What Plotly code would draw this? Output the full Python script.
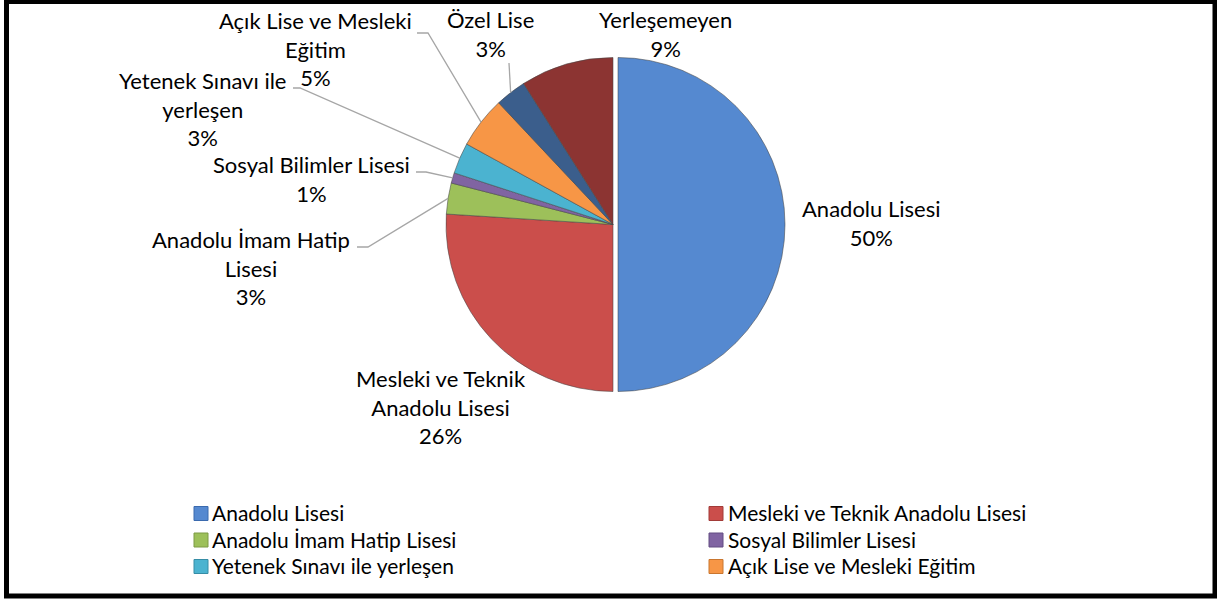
import math
import plotly.graph_objects as go

# ---------------- data ----------------
labels = [
    "Anadolu Lisesi",
    "Mesleki ve Teknik Anadolu Lisesi",
    "Anadolu İmam Hatip Lisesi",
    "Sosyal Bilimler Lisesi",
    "Yetenek Sınavı ile yerleşen",
    "Açık Lise ve Mesleki Eğitim",
    "Özel Lise",
    "Yerleşemeyen",
]
values = [50, 26, 3, 1, 3, 5, 3, 9]
# data label text (with the line breaks used in the chart)
label_text = [
    "Anadolu Lisesi",
    "Mesleki ve Teknik<br>Anadolu Lisesi",
    "Anadolu İmam Hatip<br>Lisesi",
    "Sosyal Bilimler Lisesi",
    "Yetenek Sınavı ile<br>yerleşen",
    "Açık Lise ve Mesleki<br>Eğitim",
    "Özel Lise",
    "Yerleşemeyen",
]
legend_count = 6  # only the first six entries are visible in the legend

# ---------------- styles ----------------
colors = ["#5589D0", "#CB4E4B", "#9DC05A", "#8064A2",
          "#4BB3D0", "#F79646", "#3B5E8C", "#8C3432"]
edge_colors = ["#3A6AAE", "#A23B38", "#7C9A44", "#624C82",
               "#368DA6", "#C9762F", "#2A4467", "#6A2523"]
pulls = [0.03, 0, 0, 0, 0, 0, 0, 0]
FONT = "Lato, 'Open Sans', 'DejaVu Sans', sans-serif"
FS = 22
LEG_FS = 21

W, H = 1217, 599
CX, CY, R = 613, 224.5, 167
PULL = max(pulls)
D = 2 * R * (1 + PULL)


def px(x):
    return x / W


def py(y):
    return 1 - y / H


# label block centres (pixels) and leader-line start points (pixels)
label_pos = [(871, 222.5), (441, 407.5), (251, 268), (311, 179),
             (202, 109), (315, 48.5), (490.5, 34), (665, 34)]
leader_start = [None, None,
                [(357, 247), (368, 247)],
                [(416, 172), (426, 172)],
                [(293, 88), (300, 88)],
                [(417, 33), (428, 33)],
                [(509, 63)],
                None]

fig = go.Figure()
fig.add_trace(go.Pie(
    labels=labels,
    values=values,
    sort=False,
    direction="clockwise",
    rotation=0,
    pull=pulls,
    textinfo="none",
    showlegend=False,
    marker=dict(colors=colors, line=dict(color="rgba(70,70,70,0.55)", width=1)),
    domain=dict(x=[px(CX - D / 2), px(CX + D / 2)],
                y=[py(CY + D / 2), py(CY - D / 2)]),
))

total = sum(values)
annotations = []
shapes = []
cum = 0
for i, v in enumerate(values):
    pct = round(100 * v / total)
    lx, ly = label_pos[i]
    annotations.append(dict(
        x=px(lx), y=py(ly), xref="paper", yref="paper",
        xanchor="center", yanchor="middle", showarrow=False,
        text=f"{label_text[i]}<br>{pct}%",
        font=dict(family=FONT, size=FS, color="#000000"),
    ))
    theta = math.radians(360 * (cum + v / 2) / total)
    ex = CX + R * math.sin(theta)
    ey = CY - R * math.cos(theta)
    if leader_start[i]:
        pts = leader_start[i] + [(ex, ey)]
        path = "M " + " L ".join(f"{px(a):.5f},{py(b):.5f}" for a, b in pts)
        shapes.append(dict(type="path", path=path, xref="paper", yref="paper",
                           line=dict(color="#A6A6A6", width=1.3)))
    cum += v

# legend (2 columns x 3 rows, row-major)
col_marker_x = [194, 709]
col_text_x = [212, 728]
row_y = [513.5, 540, 566.5]
for i in range(legend_count):
    r, c = divmod(i, 2)
    mx, my = col_marker_x[c], row_y[r]
    shapes.append(dict(type="rect", xref="paper", yref="paper",
                       x0=px(mx), x1=px(mx + 14), y0=py(my + 7), y1=py(my - 7),
                       fillcolor=colors[i], line=dict(color=edge_colors[i], width=1)))
    annotations.append(dict(
        x=px(col_text_x[c]), y=py(my - 1), xref="paper", yref="paper",
        xanchor="left", yanchor="middle", showarrow=False,
        borderpad=0, borderwidth=0,
        text=labels[i], font=dict(family=FONT, size=LEG_FS, color="#000000"),
    ))

# outer frame
shapes.append(dict(type="rect", xref="paper", yref="paper",
                   x0=px(6.5), x1=px(1215), y0=py(596), y1=py(1.5),
                   line=dict(color="#000000", width=5), fillcolor="rgba(0,0,0,0)"))

fig.update_layout(
    width=W, height=H,
    margin=dict(l=0, r=0, t=0, b=0),
    paper_bgcolor="#FFFFFF",
    plot_bgcolor="#FFFFFF",
    annotations=annotations,
    shapes=shapes,
    font=dict(family=FONT, size=FS, color="#000000"),
)

fig.write_html(
    "out.html",
    config={"displayModeBar": False},
    post_script="document.body.style.margin='0px';document.body.style.overflow='hidden';",
)
